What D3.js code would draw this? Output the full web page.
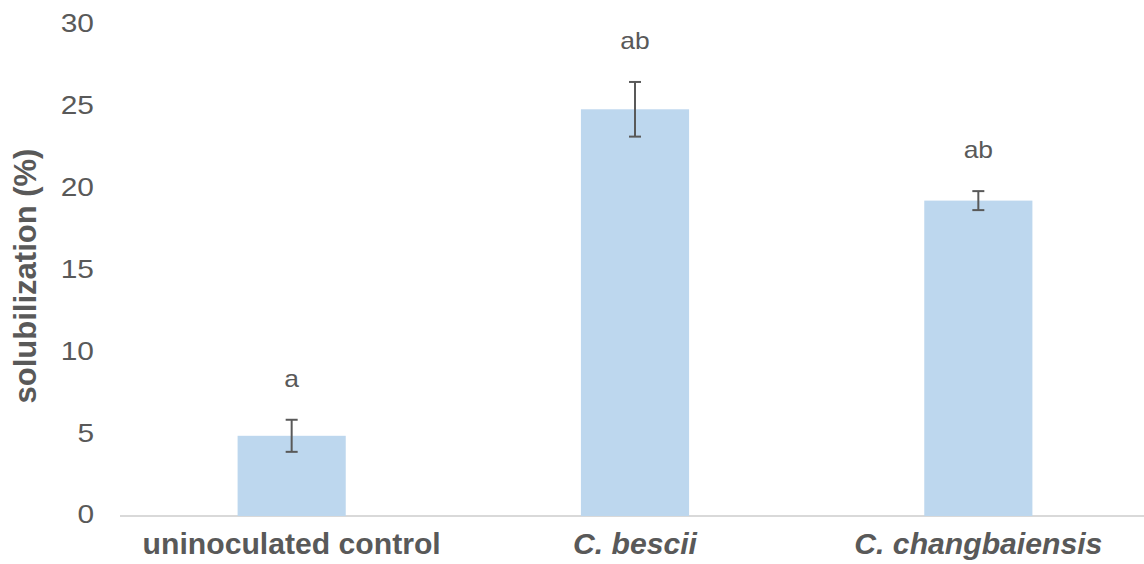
<!DOCTYPE html>
<html><head><meta charset="utf-8">
<script src="https://cdn.jsdelivr.net/npm/d3@7"></script>
<style>
body{margin:0;background:#fff;}
text{font-family:"Liberation Sans",Arial,sans-serif;}
</style></head>
<body><svg id="c" width="1144" height="564"></svg>
<script>
const categories = ["uninoculated control", "C. bescii", "C. changbaiensis"];
const italicCats = [false, true, true];
const means = [4.9, 24.85, 19.27];
const errors = [0.98, 1.67, 0.58];
const sigLetters = ["a", "ab", "ab"];
const yTicks = [0, 5, 10, 15, 20, 25, 30];
const yTitle = "solubilization (%)";

const svg = d3.select("#c");
const x = d3.scaleBand().domain(categories).range([120, 1150]).paddingInner(0.685).paddingOuter(0.3425);
const y = d3.scaleLinear().domain([0, 30]).range([516, 25]);
const grey = "#595959";
const sx = 1.15;

// axis line
svg.append("line").attr("x1", 120).attr("x2", 1144).attr("y1", y(0)).attr("y2", y(0))
  .attr("stroke", "#d9d9d9").attr("stroke-width", 2);

// y tick labels
svg.selectAll(".yt").data(yTicks).enter().append("text")
  .attr("transform", d => `translate(94,${y(d) - 2}) scale(${sx},1)`).attr("dy", "0.36em")
  .attr("text-anchor", "end").attr("fill", grey).style("font-size", "26px")
  .text(d => d);

// y title
svg.append("text").attr("transform", `translate(36,276) rotate(-90)`)
  .attr("text-anchor", "middle").attr("fill", grey).style("font-size", "31px").style("font-weight", "bold")
  .text(yTitle);

const data = categories.map((c, i) => ({c, m: means[i], e: errors[i], l: sigLetters[i], it: italicCats[i]}));

svg.selectAll(".bar").data(data).enter().append("rect")
  .attr("x", d => x(d.c)).attr("width", x.bandwidth())
  .attr("y", d => y(d.m)).attr("height", d => y(0) - y(d.m))
  .attr("fill", "#bdd7ee");

const cx = d => x(d.c) + x.bandwidth() / 2;
const eb = svg.selectAll(".eb").data(data).enter().append("g").attr("stroke", grey).attr("stroke-width", 2);
eb.append("line").attr("x1", cx).attr("x2", cx).attr("y1", d => y(d.m + d.e)).attr("y2", d => y(d.m - d.e));
eb.append("line").attr("x1", d => cx(d) - 6).attr("x2", d => cx(d) + 6).attr("y1", d => y(d.m + d.e)).attr("y2", d => y(d.m + d.e));
eb.append("line").attr("x1", d => cx(d) - 6).attr("x2", d => cx(d) + 6).attr("y1", d => y(d.m - d.e)).attr("y2", d => y(d.m - d.e));

svg.selectAll(".sl").data(data).enter().append("text")
  .attr("transform", d => `translate(${cx(d)},${y(d.m + d.e) - 33}) scale(${sx},1)`)
  .attr("text-anchor", "middle").attr("fill", grey).style("font-size", "23px")
  .text(d => d.l);

svg.selectAll(".xl").data(data).enter().append("text")
  .attr("transform", d => `translate(${cx(d)},554) scale(1.04,1)`)
  .attr("text-anchor", "middle").attr("fill", grey).style("font-size", "29px").style("font-weight", "bold")
  .style("font-style", d => d.it ? "italic" : "normal")
  .text(d => d.c);
</script></body></html>
